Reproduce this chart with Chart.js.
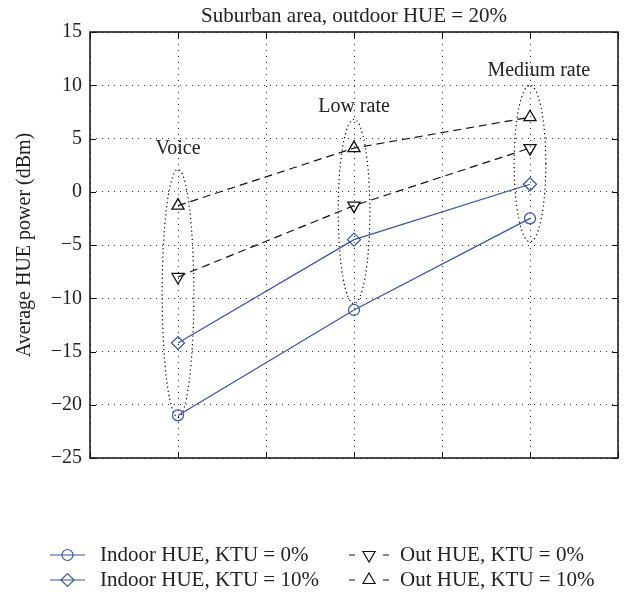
<!DOCTYPE html>
<html>
<head>
<meta charset="utf-8">
<script src="https://cdn.jsdelivr.net/npm/chart.js@4.4.0/dist/chart.umd.min.js"></script>
<style>
  html, body { margin: 0; padding: 0; background: #fff; }
  #wrap { width: 628px; height: 592px; }
</style>
</head>
<body>
<div id="wrap"><canvas id="grafico" width="628" height="592"></canvas></div>
<script>
// Datos
const categorias = ['Voice', 'Low rate', 'Medium rate'];
const posX = [1, 3, 5];
const indoor0 = [-21.0, -11.1, -2.5];
const indoor10 = [-14.2, -4.5, 0.7];
const out0 = [-8.0, -1.3, 4.1];
const out10 = [-1.3, 4.1, 7.0];
const ticksY = [-25, -20, -15, -10, -5, 0, 5, 10, 15];
const titulo = 'Suburban area, outdoor HUE = 20%';

// elipses punteadas (valor arriba / abajo de cada grupo)
const elipseArriba = [2.1, 6.8, 10.0];
const elipseAbajo = [-21.2, -10.5, -4.7];
// donde van los textos de cada grupo
const etiquetaX = [1, 3, 5.1];
const etiquetaY = [4.0, 8.0, 11.4];

const azul = '#3452b0';
const negro = '#111';
const fuente = 'Liberation Serif';

const puntos = arr => posX.map((x, i) => ({ x: x, y: arr[i] }));

const extras = {
  id: 'extras',
  beforeDatasetsDraw(chart) {
    const { ctx, scales: { x, y } } = chart;
    ctx.save();
    ctx.strokeStyle = '#000';
    ctx.lineWidth = 1.2;
    ctx.setLineDash([1.2, 3]);
    posX.forEach((v, i) => {
      const cx = x.getPixelForValue(v);
      const top = y.getPixelForValue(elipseArriba[i]);
      const bot = y.getPixelForValue(elipseAbajo[i]);
      const rx = x.getPixelForValue(v + 0.18) - cx;
      ctx.beginPath();
      ctx.ellipse(cx, (top + bot) / 2, rx, (bot - top) / 2, 0, 0, Math.PI * 2);
      ctx.stroke();
    });
    ctx.restore();
  },
  afterDatasetsDraw(chart) {
    const { ctx, scales: { x, y } } = chart;
    ctx.save();
    ctx.fillStyle = '#222';
    ctx.font = '20px "' + fuente + '"';
    ctx.textAlign = 'center';
    ctx.textBaseline = 'middle';
    categorias.forEach((c, i) => {
      ctx.fillText(c, x.getPixelForValue(etiquetaX[i]), y.getPixelForValue(etiquetaY[i]));
    });
    ctx.restore();
  },
  afterDraw(chart) {
    const { ctx, chartArea: a, scales: { x, y } } = chart;
    ctx.save();
    // titulo centrado sobre el area del grafico
    ctx.fillStyle = '#222';
    ctx.font = '21px "' + fuente + '"';
    ctx.textAlign = 'center';
    ctx.textBaseline = 'middle';
    ctx.fillText(titulo, (a.left + a.right) / 2, 16);

    ctx.strokeStyle = '#111';
    ctx.lineWidth = 1.5;
    ctx.strokeRect(a.left, a.top, a.right - a.left, a.bottom - a.top);
    // marcas hacia dentro
    ctx.lineWidth = 1;
    ctx.beginPath();
    y.ticks.forEach(t => {
      const py = Math.round(y.getPixelForValue(t.value)) + 0.5;
      ctx.moveTo(a.left, py); ctx.lineTo(a.left + 6, py);
      ctx.moveTo(a.right, py); ctx.lineTo(a.right - 6, py);
    });
    x.ticks.forEach(t => {
      const px = Math.round(x.getPixelForValue(t.value)) + 0.5;
      ctx.moveTo(px, a.bottom); ctx.lineTo(px, a.bottom - 6);
      ctx.moveTo(px, a.top); ctx.lineTo(px, a.top + 6);
    });
    ctx.stroke();

    // leyenda en dos columnas
    const cols = [[50, 85, 100], [349, 389, 400]];
    const filas = [555, 580];
    const orden = [[0, 0, 0], [1, 0, 1], [2, 1, 0], [3, 1, 1]];
    ctx.font = '21px "' + fuente + '"';
    ctx.textAlign = 'left';
    orden.forEach(([di, c, f]) => {
      const ds = chart.data.datasets[di];
      const [x0, x1, tx] = cols[c];
      const py = filas[f];
      const mid = (x0 + x1) / 2;
      ctx.strokeStyle = ds.borderColor;
      ctx.lineWidth = ds.borderWidth;
      ctx.setLineDash([]);
      ctx.beginPath();
      if (ds.borderDash) {
        ctx.moveTo(x0, py); ctx.lineTo(x0 + 6, py);
        ctx.moveTo(x1 - 6, py); ctx.lineTo(x1, py);
      } else {
        ctx.moveTo(x0, py); ctx.lineTo(x1, py);
      }
      ctx.stroke();
      ctx.fillStyle = 'rgba(0,0,0,0)';
      Chart.helpers.drawPoint(ctx, {
        pointStyle: ds.pointStyle,
        radius: ds.pointRadius,
        rotation: ds.pointRotation || 0,
        borderWidth: ds.pointBorderWidth
      }, mid, py);
      ctx.fillStyle = '#222';
      ctx.fillText(ds.label, tx, py);
    });
    ctx.restore();
  }
};

new Chart(document.getElementById('grafico'), {
  type: 'line',
  data: {
    datasets: [
      {
        label: 'Indoor HUE, KTU = 0%',
        data: puntos(indoor0),
        borderColor: azul, borderWidth: 1.2,
        pointStyle: 'circle', pointRadius: 5.5, pointBorderWidth: 1.2,
        pointBorderColor: azul, pointBackgroundColor: 'rgba(0,0,0,0)'
      },
      {
        label: 'Indoor HUE, KTU = 10%',
        data: puntos(indoor10),
        borderColor: azul, borderWidth: 1.2,
        pointStyle: 'rectRot', pointRadius: 6.5, pointBorderWidth: 1.2,
        pointBorderColor: azul, pointBackgroundColor: 'rgba(0,0,0,0)'
      },
      {
        label: 'Out HUE, KTU = 0%',
        data: puntos(out0),
        borderColor: negro, borderWidth: 1.2, borderDash: [8, 5],
        pointStyle: 'triangle', pointRotation: 180, pointRadius: 7, pointBorderWidth: 1.3,
        pointBorderColor: negro, pointBackgroundColor: 'rgba(0,0,0,0)'
      },
      {
        label: 'Out HUE, KTU = 10%',
        data: puntos(out10),
        borderColor: negro, borderWidth: 1.2, borderDash: [8, 5],
        pointStyle: 'triangle', pointRadius: 7, pointBorderWidth: 1.3,
        pointBorderColor: negro, pointBackgroundColor: 'rgba(0,0,0,0)'
      }
    ]
  },
  options: {
    responsive: false,
    animation: false,
    devicePixelRatio: 1,
    layout: { padding: { top: 32, right: 10, bottom: 0, left: 0 } },
    plugins: {
      legend: { display: false },
      tooltip: { enabled: false },
      title: { display: false }
    },
    scales: {
      x: {
        type: 'linear', min: 0, max: 6,
        ticks: { stepSize: 1, display: false },
        grid: { color: '#333', lineWidth: 1, drawTicks: false },
        border: { display: false, dash: [1, 5] },
        afterFit: s => { s.height = 134; }
      },
      y: {
        min: -25, max: 15,
        afterBuildTicks: s => { s.ticks = ticksY.map(v => ({ value: v })); },
        ticks: {
          color: '#222', padding: 8,
          font: { family: fuente, size: 20 },
          callback: v => String(v).replace('-', '\u2212')
        },
        grid: { color: '#333', lineWidth: 1, drawTicks: false },
        border: { display: false, dash: [1, 5] },
        title: {
          display: true,
          text: 'Average HUE power (dBm)',
          color: '#222',
          font: { family: fuente, size: 20 },
          padding: { top: 13, bottom: 0 }
        },
        afterFit: s => { s.width = 90; }
      }
    }
  },
  plugins: [extras]
});
</script>
</body>
</html>
